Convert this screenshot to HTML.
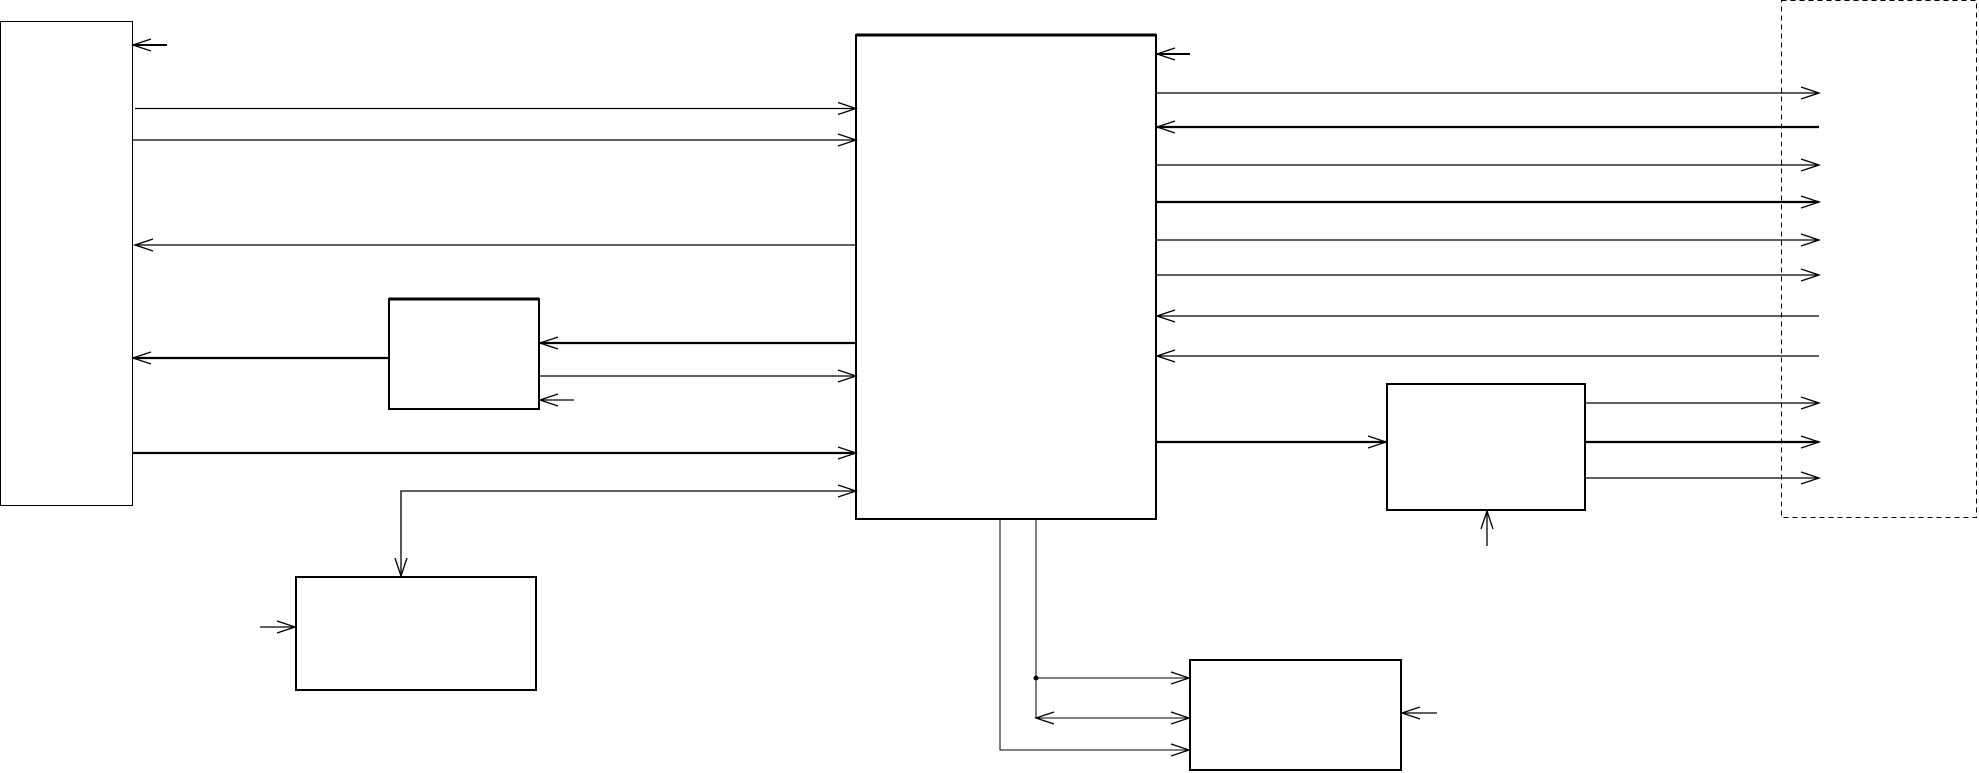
<!DOCTYPE html>
<html><head><meta charset="utf-8"><style>html,body{margin:0;padding:0;background:#fff}svg{display:block}</style></head>
<body>
<svg width="1979" height="773" viewBox="0 0 1979 773" xmlns="http://www.w3.org/2000/svg">
<defs>
<marker id="a" markerUnits="userSpaceOnUse" markerWidth="22" markerHeight="14" refX="19" refY="7" orient="auto-start-reverse">
<path d="M1,1 L19,7 L1,13" fill="none" stroke="#000" stroke-width="1.3"/>
</marker>
</defs>
<g fill="none" stroke="#000">
<!-- boxes -->
<rect x="0.5" y="21.5" width="132" height="484" stroke-width="1"/>
<rect x="389" y="299" width="150" height="110" stroke-width="2"/>
<line x1="389" y1="299" x2="539" y2="299" stroke-width="3"/>
<rect x="296" y="577" width="240" height="113" stroke-width="2"/>
<rect x="856" y="35" width="300" height="484" stroke-width="2"/>
<line x1="856" y1="35" x2="1156" y2="35" stroke-width="3"/>
<rect x="1387" y="384" width="198" height="126" stroke-width="2"/>
<rect x="1190" y="660" width="211" height="110" stroke-width="2"/>
<rect x="1781.5" y="0.5" width="195" height="517" stroke-width="1" stroke-dasharray="5,4"/>

<!-- left region -->
<g stroke-width="1.3">
<line x1="167" y1="45" x2="133" y2="45" marker-end="url(#a)" stroke-width="2"/>
<line x1="135" y1="108.5" x2="856" y2="108.5" marker-end="url(#a)"/>
<line x1="133" y1="140" x2="856" y2="140" marker-end="url(#a)"/>
<line x1="856" y1="245" x2="135" y2="245" marker-end="url(#a)"/>
<line x1="389" y1="358" x2="133" y2="358" marker-end="url(#a)" stroke-width="2.3"/>
<line x1="133" y1="453" x2="856" y2="453" marker-end="url(#a)" stroke-width="2.3"/>
<line x1="856" y1="343" x2="540" y2="343" marker-end="url(#a)" stroke-width="2.3"/>
<line x1="540" y1="376" x2="856" y2="376" marker-end="url(#a)"/>
<line x1="574" y1="400" x2="540" y2="400" marker-end="url(#a)"/>
<polyline points="856,491 401,491 401,576" marker-start="url(#a)" marker-end="url(#a)"/>
<line x1="260" y1="627" x2="295" y2="627" marker-end="url(#a)"/>
</g>

<!-- right region -->
<g stroke-width="1.3">
<line x1="1190" y1="54" x2="1157" y2="54" marker-end="url(#a)" stroke-width="2"/>
<line x1="1157" y1="93" x2="1819" y2="93" marker-end="url(#a)"/>
<line x1="1819" y1="127" x2="1157" y2="127" marker-end="url(#a)" stroke-width="2.3"/>
<line x1="1157" y1="165" x2="1819" y2="165" marker-end="url(#a)"/>
<line x1="1157" y1="202" x2="1819" y2="202" marker-end="url(#a)" stroke-width="2.3"/>
<line x1="1157" y1="240" x2="1819" y2="240" marker-end="url(#a)"/>
<line x1="1157" y1="275" x2="1819" y2="275" marker-end="url(#a)"/>
<line x1="1819" y1="316" x2="1157" y2="316" marker-end="url(#a)"/>
<line x1="1819" y1="356" x2="1157" y2="356" marker-end="url(#a)"/>
<line x1="1157" y1="442" x2="1386" y2="442" marker-end="url(#a)" stroke-width="2.3"/>
<line x1="1586" y1="403" x2="1819" y2="403" marker-end="url(#a)"/>
<line x1="1586" y1="442" x2="1819" y2="442" marker-end="url(#a)" stroke-width="2.3"/>
<line x1="1586" y1="478" x2="1819" y2="478" marker-end="url(#a)"/>
<line x1="1487" y1="546" x2="1487" y2="511" marker-end="url(#a)"/>
</g>

<!-- bottom region -->
<g stroke-width="1">
<polyline points="1000,520 1000,750 1189,750" marker-end="url(#a)"/>
<line x1="1036" y1="520" x2="1036" y2="718"/>
<line x1="1036" y1="678" x2="1189" y2="678" marker-end="url(#a)"/>
<line x1="1036" y1="718" x2="1189" y2="718" marker-start="url(#a)" marker-end="url(#a)"/>
<line x1="1437" y1="713" x2="1402" y2="713" marker-end="url(#a)" stroke-width="1.3"/>
</g>
</g>
<circle cx="1036" cy="678" r="2.5" fill="#000"/>
</svg>
</body></html>
